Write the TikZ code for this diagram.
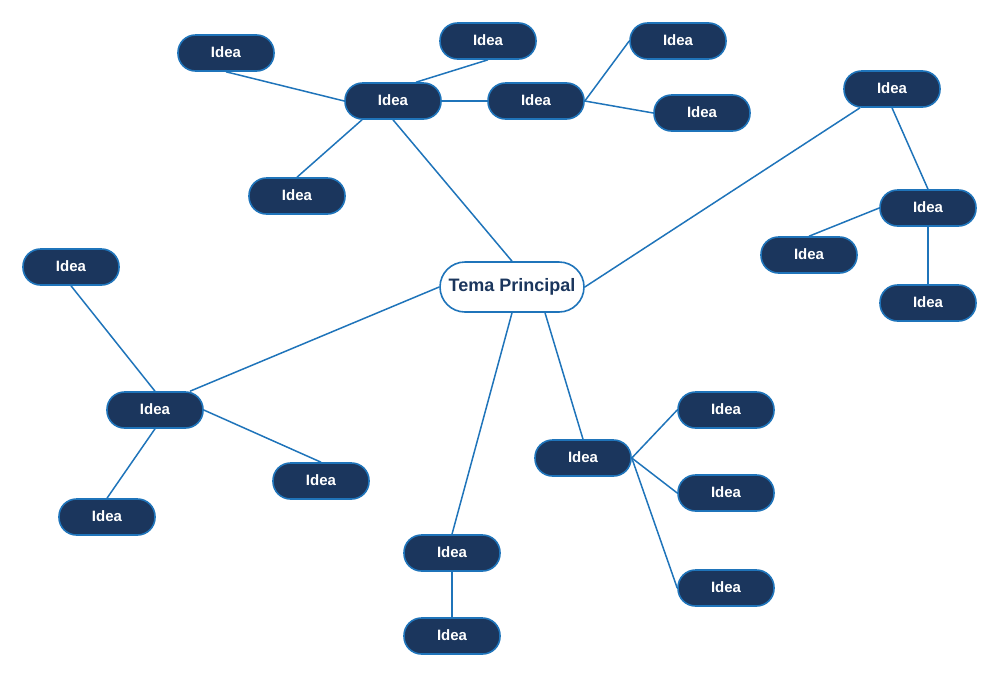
\documentclass[tikz,border=0pt]{standalone}
\usepackage{fontspec}
\setmainfont{Liberation Sans}
\usetikzlibrary{calc}
\definecolor{navy}{HTML}{1B365D}
\definecolor{edgeblue}{HTML}{1F74BA}
\begin{document}
\begin{tikzpicture}[x=1pt,y=-1pt,
  idea/.style={draw=edgeblue,line width=1.6pt,fill=navy,text=white,rounded corners=17.5pt,
    minimum width=96pt,minimum height=36pt,inner sep=0pt,text depth=1.5pt,font=\fontsize{15}{18}\selectfont\bfseries},
  mainidea/.style={draw=edgeblue,line width=1.6pt,fill=white,text=navy,rounded corners=25pt,
    minimum width=144pt,minimum height=50pt,inner sep=0pt,font=\fontsize{18}{22}\selectfont\bfseries},
  link/.style={draw=edgeblue,line width=1.5pt}]
\useasboundingbox (0,0) rectangle (1000,678);
\node[mainidea] (c) at (512,287) {Tema Principal};
\node[idea] (n1) at (226,53) {Idea};
\node[idea] (n2) at (488,41) {Idea};
\node[idea] (n3) at (393,101) {Idea};
\node[idea] (n4) at (536,101) {Idea};
\node[idea] (n5) at (678,41) {Idea};
\node[idea] (n6) at (702,113) {Idea};
\node[idea] (n7) at (297,196) {Idea};
\node[idea] (n8) at (892,89) {Idea};
\node[idea] (n9) at (928,208) {Idea};
\node[idea] (n10) at (809,255) {Idea};
\node[idea] (n11) at (928,303) {Idea};
\node[idea] (n12) at (71,267) {Idea};
\node[idea] (n13) at (155,410) {Idea};
\node[idea] (n14) at (321,481) {Idea};
\node[idea] (n15) at (107,517) {Idea};
\node[idea] (n16) at (583,458) {Idea};
\node[idea] (n17) at (726,410) {Idea};
\node[idea] (n18) at (726,493) {Idea};
\node[idea] (n19) at (726,588) {Idea};
\node[idea] (n20) at (452,553) {Idea};
\node[idea] (n21) at (452,636) {Idea};
\path[link] (c.north) -- (n3.south);
\path[link] (n3.west) -- (n1.south);
\path[link] ($(n3.north)+(23,0)$) -- (n2.south);
\path[link] ($(n3.south)+(-31,0)$) -- (n7.north);
\path[link] (n3.east) -- (n4.west);
\path[link] (n4.east) -- (n5.west);
\path[link] (n4.east) -- (n6.west);
\path[link] (c.east) -- ($(n8.south)+(-32,0)$);
\path[link] (n8.south) -- (n9.north);
\path[link] (n9.west) -- (n10.north);
\path[link] (n9.south) -- (n11.north);
\path[link] (c.west) -- ($(n13.north)+(35,0)$);
\path[link] (n12.south) -- (n13.north);
\path[link] (n13.east) -- (n14.north);
\path[link] (n13.south) -- (n15.north);
\path[link] (c.south) -- (n20.north);
\path[link] (n20.south) -- (n21.north);
\path[link] ($(c.south)+(33,0)$) -- (n16.north);
\path[link] (n16.east) -- (n17.west);
\path[link] (n16.east) -- (n18.west);
\path[link] (n16.east) -- (n19.west);
\end{tikzpicture}
\end{document}
